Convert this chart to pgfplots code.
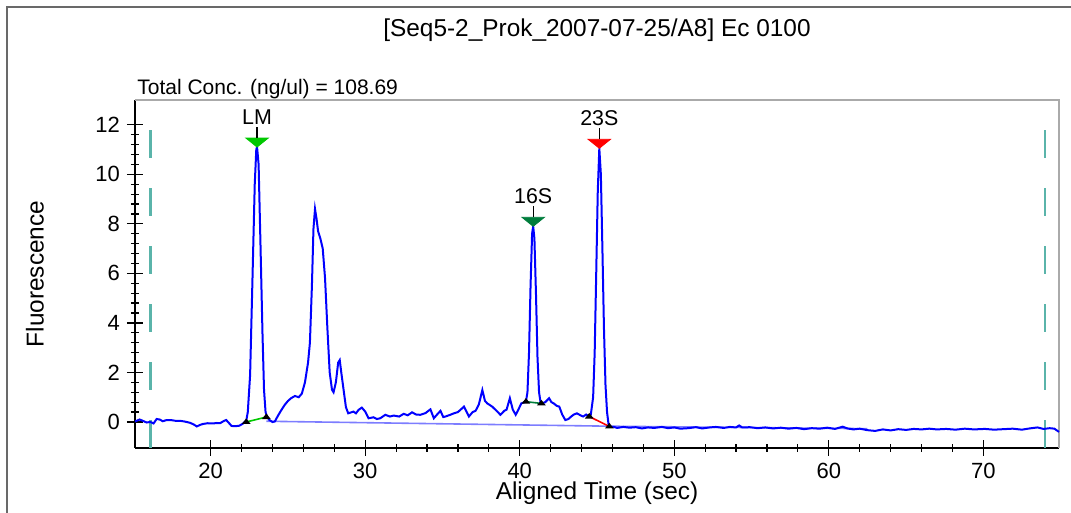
\documentclass[border=0pt]{standalone}
\usepackage{pgfplots}
\pgfplotsset{compat=1.18}
\usepackage{fontspec}
\setmainfont{Liberation Sans}

\definecolor{trace}{RGB}{0,0,255}
\definecolor{basel}{RGB}{125,125,255}
\definecolor{dashteal}{RGB}{90,180,170}
\definecolor{lmgreen}{RGB}{0,200,0}
\definecolor{sgreen}{RGB}{0,125,60}
\definecolor{framegray}{RGB}{105,105,105}
\definecolor{boxgray}{RGB}{170,170,170}

% flat triangle pointing down onto the peak, with a short stem above it
\pgfdeclareplotmark{peak}{%
  \pgfpathmoveto{\pgfpoint{0pt}{0pt}}%
  \pgfpathlineto{\pgfpoint{-5.6pt}{4.5pt}}%
  \pgfpathlineto{\pgfpoint{5.6pt}{4.5pt}}%
  \pgfpathclose
  \pgfusepathqfillstroke
  \pgfsetstrokecolor{black}%
  \pgfsetlinewidth{0.6pt}%
  \pgfpathmoveto{\pgfpoint{0pt}{4.5pt}}%
  \pgfpathlineto{\pgfpoint{0pt}{10pt}}%
  \pgfusepathqstroke
}
% small black triangle at the peak boundaries
\pgfdeclareplotmark{bound}{%
  \pgfpathmoveto{\pgfpoint{-2.2pt}{-1pt}}%
  \pgfpathlineto{\pgfpoint{2.2pt}{-1pt}}%
  \pgfpathlineto{\pgfpoint{0pt}{1.8pt}}%
  \pgfpathclose
  \pgfusepathqfill
}

\begin{document}
\begin{tikzpicture}
\useasboundingbox (-67.5pt,-32.5pt) rectangle (468pt,224pt);
\draw[framegray, line width=1pt] (-63.75pt,-60pt) rectangle (520pt,220.25pt);
\node[font=\fontsize{12.2}{14}\selectfont] at (231pt,209pt) {[Seq5-2\_Prok\_2007-07-25/A8] Ec 0100};
\node[font=\fontsize{10.5}{12}\selectfont, anchor=base west, inner sep=0pt] at (1pt,176.5pt) {Total Conc. (ng/ul) = 108.69};

\begin{axis}[
    at={(0pt,0pt)}, anchor=south west,
    scale only axis,
    width=462pt, height=174pt,
    xmin=15.1, xmax=74.9,
    ymin=-1.05, ymax=13,
    axis lines*=left,
    axis line style={-, black, line width=0.8pt},
    xtick={20,30,40,50,60,70},
    ytick={0,2,4,6,8,10,12},
    minor x tick num=4,
    minor y tick num=4,
    tick align=center,
    major tick length=8pt,
    minor tick length=4pt,
    tick style={black, line width=0.6pt},
    /pgf/number format/assume math mode=true,
    tick label style={font=\fontsize{11}{13}\selectfont},
    xlabel={Aligned Time (sec)},
    ylabel={Fluorescence},
    every axis x label/.style={at={(axis description cs:0.5,0)}, anchor=center, yshift=-22.5pt, font=\fontsize{12.2}{14}\selectfont},
    every axis y label/.style={at={(axis description cs:0,0.5)}, anchor=center, xshift=-50pt, rotate=90, font=\fontsize{12.2}{14}\selectfont},
    clip=false,
    ]
% right and top of the plot box
\draw[boxgray, line width=0.8pt] (rel axis cs:0,1) -- (rel axis cs:1,1) -- (rel axis cs:1,0);

% dashed teal limits
\addplot[dashteal, line width=1.25pt, dash pattern=on 14pt off 15pt] coordinates {(16.1,-1.05) (16.1,13)};
\addplot[dashteal, line width=1.25pt, dash pattern=on 14pt off 15pt] coordinates {(74.0,-1.05) (74.0,13)};

% integration baselines
\addplot[basel, line width=0.8pt] coordinates {(23.6,0.03) (45.8,-0.17) (62.5,-0.27)};

% electropherogram trace
\addplot[trace, line width=1pt] coordinates {
(15.1,0.02) (15.4,0.1) (15.6,0.05) (15.85,-0.02) (16.1,0.0) (16.3,-0.06) (16.5,0.12)
(16.7,0.1) (16.9,0.03) (17.1,0.07) (17.4,0.08) (17.7,0.05) (18.0,0.05) (18.3,0.02)
(18.65,-0.03) (18.9,-0.1) (19.1,-0.18) (19.3,-0.12) (19.5,-0.08) (19.8,-0.05)
(20.15,-0.06) (20.4,-0.04) (20.6,-0.05) (20.85,0.04) (21.0,0.08) (21.15,-0.02)
(21.35,-0.16) (21.6,-0.17) (21.85,-0.15) (22.05,-0.08) (22.2,0.0) (22.3,0.05)
(22.4,0.4) (22.55,1.9) (22.7,5.7) (22.85,9.6) (22.95,11.0) (23.0,11.1) (23.1,10.4)
(23.22,7.2) (23.35,3.6) (23.45,1.3) (23.55,0.4) (23.65,0.2) (23.8,0.08) (24.0,0.0)
(24.15,0.02) (24.35,0.25) (24.55,0.46) (24.8,0.7) (25.0,0.85) (25.2,0.96) (25.45,1.05)
(25.7,1.0) (25.9,1.15) (26.1,1.6) (26.3,2.4) (26.42,3.2) (26.55,5.5) (26.65,7.8)
(26.75,8.6) (26.85,8.2) (26.95,7.7) (27.1,7.4) (27.25,7.0) (27.4,5.8) (27.55,3.8)
(27.7,2.0) (27.85,1.3) (27.95,1.2) (28.1,1.6) (28.25,2.4) (28.35,2.5) (28.45,2.0)
(28.6,1.3) (28.75,0.6) (28.9,0.35) (29.05,0.38) (29.24,0.42) (29.4,0.35) (29.57,0.49)
(29.78,0.58) (30.0,0.42) (30.22,0.15) (30.54,0.19) (30.75,0.12) (30.97,0.15) (31.3,0.29)
(31.6,0.22) (31.84,0.26) (32.2,0.22) (32.49,0.33) (32.75,0.27) (33.03,0.39) (33.3,0.3)
(33.57,0.29) (33.9,0.36) (34.22,0.51) (34.44,0.15) (34.65,0.3) (34.87,0.45) (35.05,0.2)
(35.19,0.22) (35.5,0.29) (35.74,0.35) (36.0,0.4) (36.39,0.62) (36.71,0.22) (36.95,0.4)
(37.14,0.45) (37.35,0.7) (37.58,1.29) (37.75,0.85) (37.9,0.75) (38.22,0.62) (38.55,0.42)
(38.75,0.29) (39.0,0.45) (39.15,0.5) (39.36,0.96) (39.55,0.5) (39.74,0.29) (39.95,0.55)
(40.1,0.75) (40.4,0.82) (40.5,1.2) (40.6,2.8) (40.7,5.5) (40.8,7.6) (40.87,7.9)
(40.95,7.4) (41.05,5.2) (41.15,2.6) (41.25,1.2) (41.35,0.78) (41.4,0.75) (41.65,0.8)
(41.9,0.96) (42.05,0.8) (42.2,0.75) (42.4,0.65) (42.56,0.62) (42.75,0.3) (42.95,0.08)
(43.15,0.12) (43.33,0.22) (43.5,0.3) (43.7,0.35) (43.9,0.28) (44.1,0.22) (44.3,0.3)
(44.49,0.22) (44.6,0.3) (44.75,1.0) (44.85,2.8) (44.95,6.0) (45.05,9.3) (45.15,11.05)
(45.25,10.0) (45.35,7.0) (45.45,3.8) (45.55,1.5) (45.65,0.4) (45.75,-0.1) (45.85,-0.2)
(46.1,-0.2) (46.3,-0.24) (46.7,-0.2) (47.1,-0.23) (47.5,-0.21) (47.9,-0.26) (48.3,-0.22)
(48.7,-0.24) (49.2,-0.2) (49.6,-0.25) (50.0,-0.22) (50.4,-0.27) (50.9,-0.25) (51.4,-0.21)
(51.8,-0.26) (52.3,-0.22) (52.7,-0.2) (53.2,-0.24) (53.6,-0.2) (54.0,-0.22) (54.2,-0.14)
(54.4,-0.22) (54.9,-0.21) (55.4,-0.25) (55.9,-0.22) (56.4,-0.26) (56.9,-0.23) (57.4,-0.27)
(57.9,-0.24) (58.4,-0.29) (58.9,-0.25) (59.4,-0.27) (59.9,-0.23) (60.4,-0.28) (60.9,-0.19)
(61.2,-0.26) (61.6,-0.3) (62.0,-0.27) (62.5,-0.33) (63.0,-0.36) (63.5,-0.3) (64.0,-0.34)
(64.5,-0.29) (65.0,-0.32) (65.5,-0.28) (66.0,-0.3) (66.5,-0.27) (67.0,-0.3) (67.6,-0.28)
(68.2,-0.31) (68.8,-0.27) (69.4,-0.3) (70.1,-0.28) (70.7,-0.31) (71.3,-0.29) (71.9,-0.27)
(72.5,-0.31) (73.0,-0.26) (73.5,-0.22) (73.9,-0.28) (74.3,-0.25) (74.6,-0.27) (74.9,-0.4)
};

% peak boundary links
\addplot[lmgreen, line width=0.8pt] coordinates {(22.3,0.0) (23.6,0.2)};
\addplot[sgreen, line width=0.8pt] coordinates {(40.4,0.82) (41.4,0.75)};
\addplot[red, line width=0.8pt] coordinates {(44.5,0.22) (45.8,-0.18)};
\addplot[only marks, mark=bound, black] coordinates {
(22.3,0.0) (23.6,0.2) (40.4,0.82) (41.4,0.75) (44.5,0.22) (45.8,-0.18)};

% peak markers with names
\addplot[only marks, mark=peak, mark options={fill=lmgreen, draw=lmgreen},
    nodes near coords, point meta=explicit symbolic,
    every node near coord/.style={anchor=base, yshift=11.5pt, inner sep=0pt, text=black, font=\fontsize{10.7}{12}\selectfont}]
    coordinates {(23.0,11.1)[LM]};
\addplot[only marks, mark=peak, mark options={fill=sgreen, draw=sgreen},
    nodes near coords, point meta=explicit symbolic,
    every node near coord/.style={anchor=base, yshift=11.5pt, inner sep=0pt, text=black, font=\fontsize{10.7}{12}\selectfont}]
    coordinates {(40.87,7.9)[16S]};
\addplot[only marks, mark=peak, mark options={fill=red, draw=red},
    nodes near coords, point meta=explicit symbolic,
    every node near coord/.style={anchor=base, yshift=11.5pt, inner sep=0pt, text=black, font=\fontsize{10.7}{12}\selectfont}]
    coordinates {(45.15,11.05)[23S]};
\end{axis}
\end{tikzpicture}
\end{document}
